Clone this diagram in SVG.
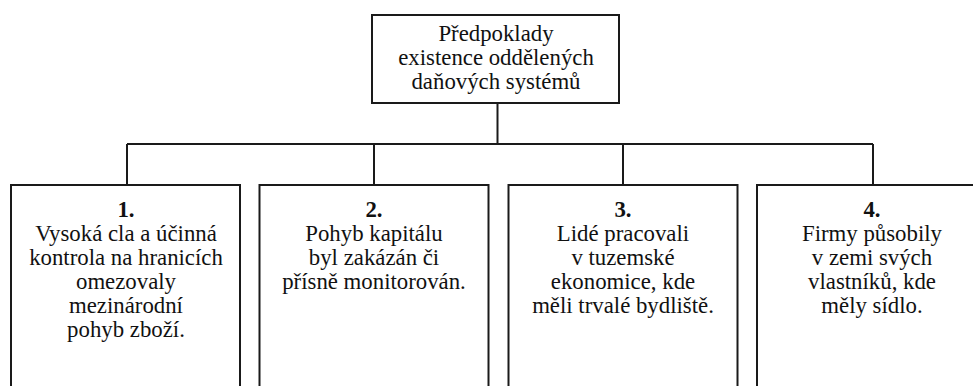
<svg xmlns="http://www.w3.org/2000/svg" width="973" height="386" viewBox="0 0 973 386">
<style>
.box{fill:#fff;stroke:#1a1a1a;stroke-width:2}
.ln{fill:none;stroke:#1a1a1a;stroke-width:2}
.t{font-size:22.8px;fill:#111;text-anchor:middle}
.num{font-weight:bold}
</style>
<rect width="973" height="386" fill="#fff"/>
<g id="connectors">
<line class="ln" x1="497.5" y1="103" x2="497.5" y2="144"/>
<line class="ln" x1="127" y1="144" x2="873" y2="144"/>
<line class="ln" x1="127" y1="144" x2="127" y2="185"/>
<line class="ln" x1="374" y1="144" x2="374" y2="185"/>
<line class="ln" x1="623" y1="144" x2="623" y2="185"/>
<line class="ln" x1="873" y1="144" x2="873" y2="185"/>
</g>
<g class="t" font-family="Liberation Serif, Tinos, DejaVu Serif, serif">
<g id="root">
<rect class="box" x="372" y="15" width="247" height="88"/>
<text x="496" y="41">Předpoklady</text>
<text x="496" y="65">existence oddělených</text>
<text x="496" y="89">daňových systémů</text>
</g>
<g id="node1">
<rect class="box" x="11" y="185" width="229" height="230"/>
<text class="num" x="126" y="217">1.</text>
<text x="126" y="241">Vysoká cla a účinná</text>
<text x="126" y="265">kontrola na hranicích</text>
<text x="126" y="289">omezovaly</text>
<text x="126" y="313">mezinárodní</text>
<text x="126" y="337">pohyb zboží.</text>
</g>
<g id="node2">
<rect class="box" x="259.5" y="185" width="229" height="230"/>
<text class="num" x="374" y="217">2.</text>
<text x="374" y="241">Pohyb kapitálu</text>
<text x="374" y="265">byl zakázán či</text>
<text x="374" y="289">přísně monitorován.</text>
</g>
<g id="node3">
<rect class="box" x="508.5" y="185" width="229" height="230"/>
<text class="num" x="623" y="217">3.</text>
<text x="623" y="241">Lidé pracovali</text>
<text x="623" y="265">v tuzemské</text>
<text x="623" y="289">ekonomice, kde</text>
<text x="623" y="313">měli trvalé bydliště.</text>
</g>
<g id="node4">
<rect class="box" x="757" y="185" width="229" height="230"/>
<text class="num" x="872" y="217">4.</text>
<text x="872" y="241">Firmy působily</text>
<text x="872" y="265">v zemi svých</text>
<text x="872" y="289">vlastníků, kde</text>
<text x="872" y="313">měly sídlo.</text>
</g>
</g>
</svg>
